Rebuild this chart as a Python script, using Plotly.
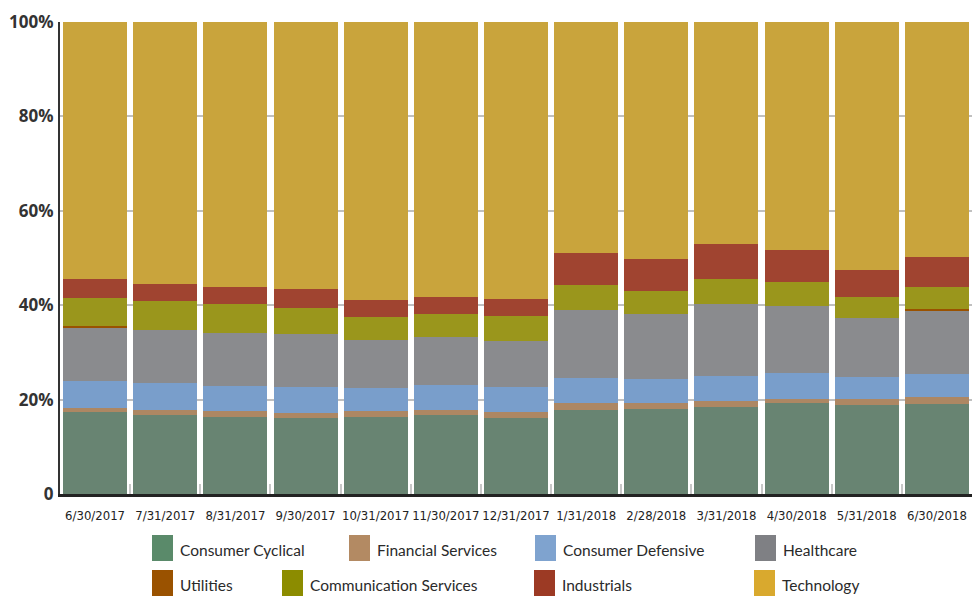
import plotly.graph_objects as go

dates = ["6/30/2017", "7/31/2017", "8/31/2017", "9/30/2017", "10/31/2017", "11/30/2017",
         "12/31/2017", "1/31/2018", "2/28/2018", "3/31/2018", "4/30/2018", "5/31/2018", "6/30/2018"]

consumer_cyclical = [17.3, 16.8, 16.4, 16.2, 16.3, 16.7, 16.2, 17.9, 18.1, 18.4, 19.2, 18.9, 19.1]
financial_services = [0.9, 0.9, 1.1, 1.0, 1.2, 1.2, 1.1, 1.3, 1.1, 1.2, 0.95, 1.25, 1.4]
consumer_defensive = [5.7, 5.8, 5.4, 5.4, 4.9, 5.2, 5.3, 5.3, 5.1, 5.4, 5.45, 4.7, 5.0]
healthcare = [11.3, 11.2, 11.3, 11.3, 10.2, 10.1, 9.9, 14.45, 13.8, 15.2, 14.3, 12.45, 13.3]
utilities = [0.4, 0, 0, 0, 0, 0, 0, 0, 0, 0, 0, 0, 0.3]
communication_services = [6.0, 6.1, 6.1, 5.6, 5.0, 5.0, 5.3, 5.4, 5.0, 5.3, 5.1, 4.35, 4.8]
industrials = [3.85, 3.6, 3.5, 3.9, 3.6, 3.6, 3.6, 6.7, 6.7, 7.5, 6.8, 5.9, 6.3]
technology = [54.55, 55.6, 56.2, 56.6, 58.8, 58.2, 58.6, 48.95, 50.2, 47.0, 48.2, 52.45, 49.8]

y_ticks = [0, 20, 40, 60, 80, 100]
y_tick_labels = ["0", "20%", "40%", "60%", "80%", "100%"]

series = [
    ("Consumer Cyclical", consumer_cyclical, "#688472", "#5a8a6a"),
    ("Financial Services", financial_services, "#ad8763", "#b38a63"),
    ("Consumer Defensive", consumer_defensive, "#799ecb", "#7fa3cf"),
    ("Healthcare", healthcare, "#8a8b8e", "#7f8084"),
    ("Utilities", utilities, "#9a5200", "#9a5200"),
    ("Communication Services", communication_services, "#9a961c", "#8c8c00"),
    ("Industrials", industrials, "#a04430", "#9c3a24"),
    ("Technology", technology, "#c9a43c", "#d9a92e"),
]

W, H = 972, 597
L, R, T, B = 60, 0, 22, 103
PW, PH = W - L - R, H - T - B

fig = go.Figure()
for name, vals, col, _ in series:
    fig.add_trace(go.Bar(x=dates, y=vals, name=name, marker=dict(color=col, line=dict(width=0)),
                         showlegend=False))

# legend drawn as swatches + labels (pixel positions)
legend_pos = {
    "Consumer Cyclical": (152, 535),
    "Financial Services": (349, 535),
    "Consumer Defensive": (535, 535),
    "Healthcare": (755, 535),
    "Utilities": (152, 570),
    "Communication Services": (282, 570),
    "Industrials": (534, 570),
    "Technology": (754, 570),
}

def px_x(p):
    return (p - L) / PW

def px_y(p):
    return (H - B - p) / PH

shapes = []
annotations = []
for name, _, _, lcol in series:
    x0, y0 = legend_pos[name]
    shapes.append(dict(type="rect", xref="paper", yref="paper",
                       x0=px_x(x0), x1=px_x(x0 + 21), y0=px_y(y0), y1=px_y(y0 + 26),
                       fillcolor=lcol, line=dict(width=0)))
    annotations.append(dict(xref="paper", yref="paper", x=px_x(x0 + 26), y=px_y(y0 + 15),
                            xanchor="left", yanchor="middle", text=name, showarrow=False,
                            font=dict(family="Lato, Open Sans, sans-serif", size=15.5, color="#2a2a2a")))

fig.update_layout(
    barmode="stack",
    bargap=0.088,
    width=W, height=H,
    margin=dict(l=L, r=R, t=T, b=B, pad=0),
    paper_bgcolor="white",
    plot_bgcolor="white",
    shapes=shapes,
    annotations=annotations,
    xaxis=dict(
        type="category",
        showline=True, linecolor="#222222", linewidth=3,
        ticks="inside", tickson="boundaries", ticklen=10, tickcolor="#c8c8c8", tickwidth=2,
        showgrid=False, tickangle=0, ticklabelstandoff=7,
        tickfont=dict(family="Liberation Sans Narrow, DejaVu Sans Condensed, sans-serif", size=13, color="#222222"),
        layer="above traces",
    ),
    yaxis=dict(
        range=[0, 100],
        tickvals=y_ticks, ticktext=y_tick_labels,
        showline=True, linecolor="#333333", linewidth=2,
        showgrid=True, gridcolor="rgba(150,150,150,0.6)", gridwidth=1.5,
        zeroline=False,
        ticks="", ticklabelstandoff=1,
        tickfont=dict(family="Open Sans, sans-serif", size=17, color="#333333", weight="bold"),
        layer="above traces",
    ),
)

fig.write_html("out.html", config={"displayModeBar": False},
               post_script="document.body.style.margin='0';document.body.style.overflow='hidden';")
